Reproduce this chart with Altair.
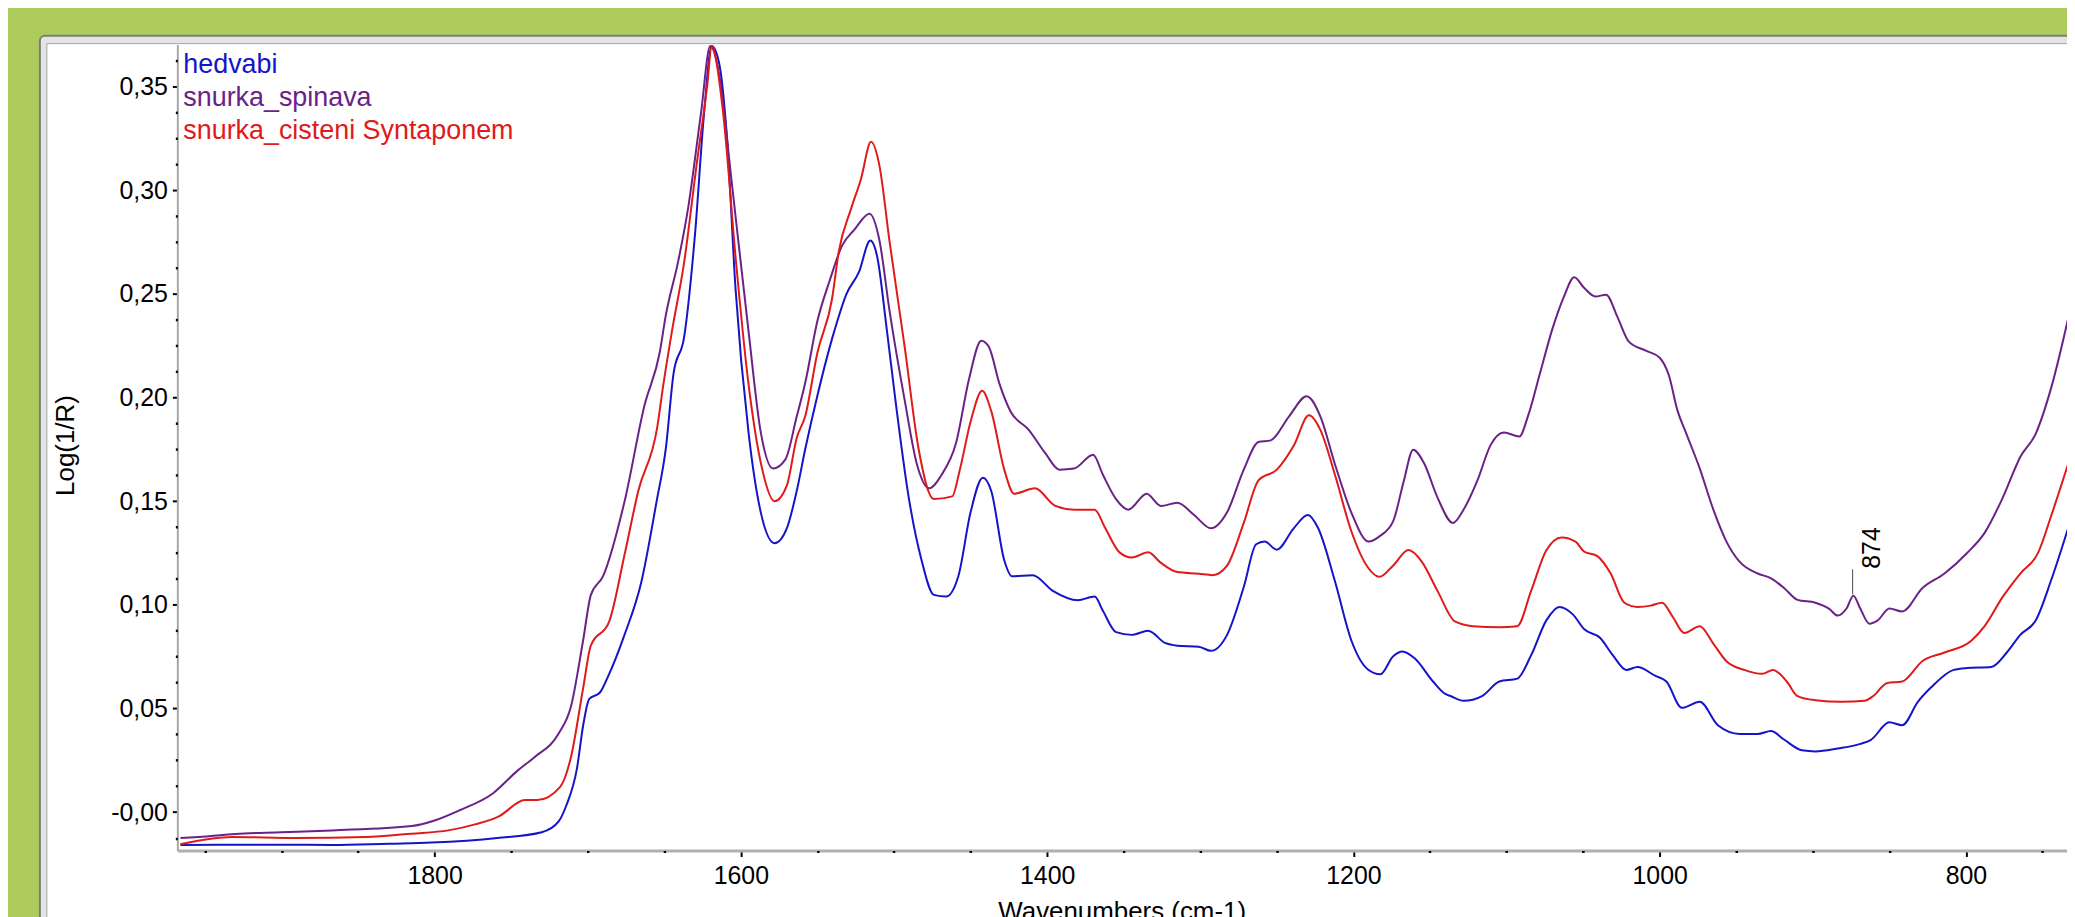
import altair as alt
import pandas as pd

# ---------------- data ----------------
series_names = ["hedvabi", "snurka_spinava", "snurka_cisteni Syntaponem"]
series_colors = ["#1414c8", "#6a2188", "#e01a1a"]

hedvabi_wn = [1966, 1940, 1900, 1867, 1830, 1802, 1759, 1730, 1719, 1714, 1707, 1703, 1699, 1692, 1687,
              1676, 1665, 1655, 1649, 1644, 1637, 1630, 1624, 1619, 1614, 1609, 1603.5, 1595, 1587, 1578,
              1570, 1563.5, 1558, 1550, 1539, 1531, 1523, 1515.5, 1511, 1505, 1498.6, 1490.5, 1482, 1474,
              1466, 1458, 1450, 1442, 1436.5, 1428, 1423, 1409.5, 1396, 1380, 1369, 1363.5, 1355, 1344.6,
              1334, 1323, 1315, 1301, 1293, 1282.5, 1271.6, 1263.5, 1258, 1250, 1239, 1229.7, 1223, 1212,
              1201.4, 1190.5, 1182.4, 1174, 1168, 1160, 1148, 1140, 1136.6, 1128, 1116, 1104.7, 1093, 1084,
              1074, 1065.4, 1056.7, 1049.4, 1039, 1030.5, 1021.8, 1014.5, 1003, 995.6, 985.5, 973.8, 962,
              947.7, 936, 927.3, 918.6, 907, 898.3, 883.7, 869, 862, 850, 841.6, 831.4, 822.7, 808, 799.4,
              783.4, 773.3, 764.5, 754.4, 744.2, 733]
hedvabi_val = [-0.0158, -0.0157, -0.0157, -0.0158, -0.0152, -0.0147, -0.0125, -0.0097, -0.0045, 0.0032,
               0.0212, 0.0418, 0.0546, 0.0577, 0.065, 0.0855, 0.111, 0.150, 0.1755, 0.2114, 0.2294, 0.2783,
               0.3374, 0.3695, 0.3605, 0.3245, 0.2526, 0.1832, 0.1446, 0.1297, 0.1369, 0.155, 0.175, 0.201,
               0.232, 0.25, 0.2603, 0.2757, 0.268, 0.2346, 0.196, 0.1523, 0.1215, 0.1048, 0.104, 0.1138,
               0.1446, 0.1613, 0.1549, 0.1215, 0.1138, 0.1143, 0.1066, 0.1022, 0.104, 0.097, 0.0868, 0.0855,
               0.0875, 0.0816, 0.0803, 0.0798, 0.0778, 0.0855, 0.1086, 0.1292, 0.1305, 0.1266, 0.1369,
               0.1433, 0.1369, 0.1112, 0.0829, 0.0688, 0.0665, 0.0752, 0.0775, 0.0742, 0.063, 0.057, 0.056,
               0.0537, 0.056, 0.063, 0.0644, 0.0756, 0.0925, 0.099, 0.0954, 0.0883, 0.0841, 0.0756, 0.0686,
               0.07, 0.0658, 0.063, 0.0503, 0.0532, 0.0419, 0.0377, 0.0377, 0.0391, 0.0349, 0.0298, 0.0293,
               0.0307, 0.0329, 0.0349, 0.0433, 0.0419, 0.0532, 0.0602, 0.0686, 0.0695, 0.07, 0.077, 0.0855,
               0.0925, 0.1122, 0.1376]

spinava_wn = [1966, 1954, 1930, 1900, 1867, 1815, 1800, 1784, 1762, 1746, 1735, 1719, 1711, 1703, 1698,
              1690, 1676, 1663, 1653, 1649, 1641, 1634.5, 1626, 1620, 1614, 1606, 1595, 1587, 1579, 1571,
              1563.5, 1558, 1550, 1542, 1534, 1526, 1516, 1509.5, 1503, 1493, 1485, 1477, 1469, 1459.5,
              1451, 1443, 1438, 1431, 1424, 1412, 1401, 1392, 1382.4, 1370, 1363.5, 1355, 1347, 1335,
              1325.7, 1315, 1304, 1293, 1282.5, 1271.6, 1262, 1254, 1242, 1230.5, 1221.6, 1212, 1201.4,
              1190, 1183, 1174, 1167, 1161, 1154, 1145, 1135, 1128, 1119, 1110.5, 1101.7, 1091.6, 1086,
              1078.5, 1070, 1062.5, 1055.8, 1049.4, 1042, 1035, 1027.6, 1020, 1008.7, 1000, 994, 988.4,
              982.6, 973.8, 965, 956.4, 947.7, 936, 927.3, 918.6, 910, 898.3, 889.5, 883.7, 878, 873.5,
              869, 863, 857.6, 850, 841.6, 828.5, 814, 799.4, 787.8, 776, 764.5, 754.4, 744.2, 733]
spinava_val = [-0.0125, -0.012, -0.0105, -0.0097, -0.0088, -0.0067, -0.004, 0.0008, 0.009, 0.0199, 0.0264,
               0.0379, 0.0508, 0.0829, 0.1047, 0.1138, 0.1497, 0.196, 0.2217, 0.2397, 0.2654, 0.2911,
               0.3374, 0.3695, 0.355, 0.304, 0.232, 0.1832, 0.1657, 0.170, 0.1909, 0.207, 0.237, 0.2564,
               0.2731, 0.2808, 0.2886, 0.2757, 0.2423, 0.1986, 0.1677, 0.1562, 0.1626, 0.178, 0.2089,
               0.2274, 0.2243, 0.2063, 0.1934, 0.1844, 0.1729, 0.1652, 0.1657, 0.1724, 0.1626, 0.151,
               0.1459, 0.1536, 0.1477, 0.1492, 0.1433, 0.1369, 0.1446, 0.1652, 0.1785, 0.1793, 0.1909,
               0.2006, 0.1909, 0.1677, 0.1446, 0.1305, 0.133, 0.1404, 0.16, 0.1748, 0.1685, 0.1516, 0.1395,
               0.146, 0.16, 0.1769, 0.1831, 0.1812, 0.191, 0.2107, 0.2332, 0.2487, 0.258, 0.2529, 0.2487,
               0.2496, 0.2389, 0.2268, 0.2225, 0.2192, 0.2107, 0.1938, 0.1826, 0.1657, 0.146, 0.1305,
               0.1207, 0.1151, 0.1128, 0.108, 0.1024, 0.101, 0.0982, 0.0948, 0.0982, 0.1044, 0.0982,
               0.0909, 0.0925, 0.0982, 0.0968, 0.108, 0.1151, 0.1249, 0.1347, 0.1516, 0.1713, 0.1826,
               0.205, 0.2389]

cisteni_wn = [1966, 1932, 1890, 1845, 1815, 1791, 1773, 1758, 1741, 1733, 1718, 1711, 1703, 1698, 1686,
              1676, 1667, 1654.6, 1650.6, 1645, 1637, 1629, 1622, 1619, 1611.6, 1603.5, 1595.4, 1586,
              1578, 1570, 1563.5, 1558, 1550, 1540.5, 1536, 1528, 1521.6, 1515, 1509.5, 1503, 1493, 1484,
              1474, 1462, 1457, 1450, 1442.4, 1436.5, 1428, 1421.6, 1408, 1394.6, 1382.4, 1369, 1362,
              1352.7, 1344.6, 1334, 1325.7, 1315, 1301, 1292, 1282.5, 1271.6, 1262, 1250, 1239, 1229,
              1221.6, 1212, 1201.4, 1190.5, 1183, 1174, 1164, 1155.5, 1145, 1133.7, 1122, 1104.7, 1093,
              1084, 1074, 1064, 1055, 1049.4, 1040.7, 1032, 1023, 1014.5, 1005.8, 998.5, 991.3, 984,
              973.8, 965, 956.4, 944.8, 933, 926, 917, 910, 898.3, 880.8, 866.3, 860.5, 851.7, 841.6,
              828.5, 814, 796.5, 787.8, 776, 764.5, 753, 744.2, 733]
cisteni_val = [-0.0155, -0.012, -0.0125, -0.012, -0.0104, -0.0088, -0.0058, -0.002, 0.0058, 0.0058,
               0.0122, 0.0264, 0.0598, 0.0803, 0.0919, 0.124, 0.1549, 0.1857, 0.2063, 0.232, 0.2654,
               0.3117, 0.3503, 0.3695, 0.3374, 0.268, 0.2089, 0.1652, 0.150, 0.1575, 0.1806, 0.1909,
               0.2217, 0.2474, 0.2706, 0.2911, 0.3053, 0.3233, 0.3117, 0.2757, 0.2243, 0.1754, 0.151,
               0.1523, 0.1652, 0.1883, 0.2032, 0.1934, 0.1652, 0.1536, 0.1562, 0.1477, 0.1459, 0.1459,
               0.1369, 0.1253, 0.1228, 0.1253, 0.1202, 0.1158, 0.115, 0.1143, 0.1189, 0.1395, 0.16,
               0.1652, 0.1767, 0.1914, 0.1844, 0.1626, 0.1356, 0.118, 0.1135, 0.119, 0.1264, 0.121,
               0.1066, 0.092, 0.0897, 0.0892, 0.0897, 0.1066, 0.1263, 0.1325, 0.1305, 0.1257, 0.1235,
               0.1151, 0.101, 0.099, 0.0996, 0.101, 0.094, 0.0864, 0.0897, 0.0813, 0.0728, 0.0686, 0.0667,
               0.0686, 0.063, 0.056, 0.054, 0.0532, 0.0537, 0.056, 0.0622, 0.063, 0.0728, 0.077, 0.0827,
               0.0897, 0.1038, 0.1151, 0.1249, 0.1432, 0.1685]

annot_wn = [874]
annot_val = [0.1044]
annot_text = ["874"]

x_major_ticks = [1800, 1600, 1400, 1200, 1000, 800]
x_minor_ticks = [1950, 1900, 1850, 1750, 1700, 1650, 1550, 1500, 1450, 1350, 1300, 1250,
                 1150, 1100, 1050, 950, 900, 850, 750]
y_major_ticks = [0.0, 0.05, 0.1, 0.15, 0.2, 0.25, 0.3, 0.35]
y_major_labels = ["-0,00", "0,05", "0,10", "0,15", "0,20", "0,25", "0,30", "0,35"]
y_minor_ticks = [-0.0125, 0.0125, 0.025, 0.0375, 0.0625, 0.075, 0.0875, 0.1125, 0.125, 0.1375,
                 0.1625, 0.175, 0.1875, 0.2125, 0.225, 0.2375, 0.2625, 0.275, 0.2875, 0.3125,
                 0.325, 0.3375, 0.3625]

# ---------------- build table ----------------
frames = []
for name, wn, val in [(series_names[0], hedvabi_wn, hedvabi_val),
                      (series_names[1], spinava_wn, spinava_val),
                      (series_names[2], cisteni_wn, cisteni_val)]:
    frames.append(pd.DataFrame({"wn": wn, "val": val, "series": name}))
df = pd.concat(frames, ignore_index=True)
ann = pd.DataFrame({"wn": annot_wn, "val": annot_val, "label": annot_text})

W, H = 1897, 809
FONT = "Liberation Sans"

x_scale = alt.Scale(domain=[734, 1968], reverse=True, nice=False, zero=False)
y_scale = alt.Scale(domain=[-0.0185, 0.3702], nice=False, zero=False)

# label lookup expression for the y axis (comma decimal labels)
y_label_expr = " : ".join(
    f"round(datum.value * 1000) == {round(v * 1000)} ? '{lab}'"
    for v, lab in zip(y_major_ticks, y_major_labels)
) + " : ''"

common_axis = dict(
    tickColor="black", labelFont=FONT, labelFontSize=25, labelColor="black",
    labelFlush=False, labelOverlap=False, grid=False, zindex=1,
    titleFont=FONT, titleFontSize=26, titleFontWeight="normal", titleColor="black",
)

# main (major) axes
x_axis_major = alt.Axis(
    values=x_major_ticks, format="d", tickSize=6, tickWidth=2, orient="bottom",
    domainColor="#b0b0b0", domainWidth=3, labelPadding=7,
    title="Wavenumbers (cm-1)", titleX=948, titleY=69, titleAlign="center",
    titleBaseline="alphabetic", **common_axis,
)
y_axis_major = alt.Axis(
    values=y_major_ticks, labelExpr=y_label_expr, tickSize=5, tickWidth=2, orient="left",
    domainColor="#a8a8a8", domainWidth=2, labelPadding=5,
    title="Log(1/R)", titleX=-112, titleY=402, titleAngle=270,
    titleAlign="center", titleBaseline="middle", **common_axis,
)
# minor tick axes (dots on the axis line, no labels)
x_axis_minor = alt.Axis(
    values=x_minor_ticks, labels=False, title=None, domain=False, tickSize=2, tickWidth=2.5,
    tickColor="black", grid=False, zindex=2, orient="bottom",
)
y_axis_minor = alt.Axis(
    values=y_minor_ticks, labels=False, title=None, domain=False, tickSize=2, tickWidth=2.5,
    tickColor="black", grid=False, zindex=2, orient="left",
)

color_expr = " : ".join(f"datum.label == '{n}' ? '{c}'" for n, c in zip(series_names[:-1], series_colors[:-1]))
color_expr += f" : '{series_colors[-1]}'"

legend = alt.Legend(
    orient="none", legendX=-21, legendY=7, title=None,
    symbolSize=0, symbolOpacity=0, symbolStrokeWidth=0,
    labelFont=FONT, labelFontSize=27, labelOffset=0, labelLimit=0,
    rowPadding=5, padding=0,
    labelColor={"expr": color_expr}, zindex=2,
)

one = pd.DataFrame({"k": [0]})
panel_outer = alt.Chart(one).mark_rect(
    fill="#e4e4e4", stroke="#7c7c7c", strokeWidth=2, cornerRadius=5
).encode(x=alt.value(-138), x2=alt.value(W + 40), y=alt.value(-9), y2=alt.value(H + 90))
panel_inner = alt.Chart(one).mark_rect(
    fill="white", stroke="#a4a4a4", strokeWidth=1
).encode(x=alt.value(-131), x2=alt.value(W + 40), y=alt.value(-1), y2=alt.value(H + 90))

lines = alt.Chart(df).mark_line(strokeWidth=2, interpolate="monotone", clip=True).encode(
    x=alt.X("wn:Q", scale=x_scale, axis=x_axis_major),
    y=alt.Y("val:Q", scale=y_scale, axis=y_axis_major),
    color=alt.Color("series:N", scale=alt.Scale(domain=series_names, range=series_colors), legend=legend),
)

# invisible layer that only carries the minor-tick axes
minor = alt.Chart(ann).mark_point(opacity=0).encode(
    x=alt.X("wn:Q", scale=x_scale, axis=x_axis_minor),
    y=alt.Y("val:Q", scale=y_scale, axis=y_axis_minor),
)

ann_tick = alt.Chart(ann).mark_tick(orient="vertical", size=25, thickness=1, color="black", yOffset=-14).encode(
    x=alt.X("wn:Q", scale=x_scale, axis=None), y=alt.Y("val:Q", scale=y_scale, axis=None)
)
ann_text = alt.Chart(ann).mark_text(
    angle=270, align="left", baseline="alphabetic", dx=27, dy=27,
    font=FONT, fontSize=25, color="black"
).encode(x=alt.X("wn:Q", scale=x_scale, axis=None), y=alt.Y("val:Q", scale=y_scale, axis=None),
         text="label:N")

chart = alt.layer(panel_outer, panel_inner, lines, minor, ann_tick, ann_text).resolve_axis(
    x="independent", y="independent"
).properties(
    width=W, height=H,
    autosize=alt.AutoSizeParams(type="none"),
    padding={"left": 170, "top": 35, "right": 0, "bottom": 65},
    background="#aecc5c",
).configure_view(stroke=None).configure(font=FONT)

chart.save("out.html", embed_options={"renderer": "svg", "actions": False})
